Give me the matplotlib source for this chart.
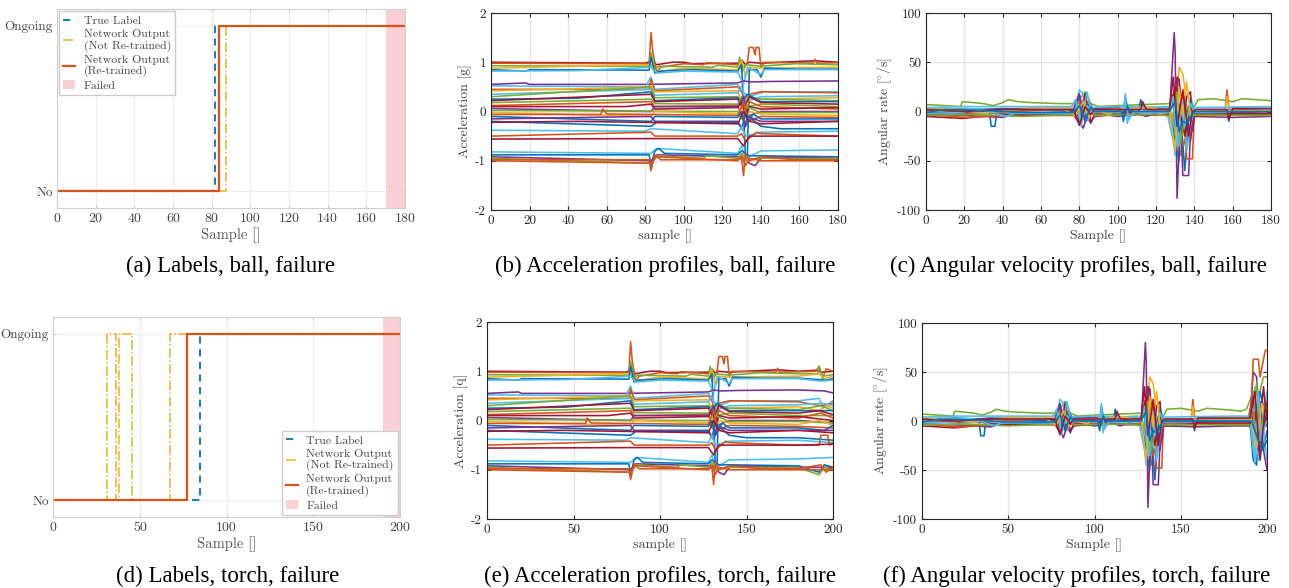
import matplotlib
matplotlib.use("Agg")
import matplotlib.pyplot as plt

plt.rcParams['font.family'] = 'cmr10'
plt.rcParams['mathtext.fontset'] = 'cm'
plt.rcParams['axes.unicode_minus'] = False
plt.rcParams['axes.formatter.use_mathtext'] = False

W, H = 1289, 588

# MATLAB default colour order
B, O, Y, P, G, L, R = '#0072BD', '#D95319', '#EDB120', '#7E2F8E', '#77AC30', '#4DBEEE', '#A2142F'

# ---- label plots (step points: sample where value changes, value) ----
ball_true_x, ball_true_y = [0, 81.5, 180], [0, 1, 1]
ball_not_x, ball_not_y = [0, 87.5, 180], [0, 1, 1]
ball_re_x, ball_re_y = [0, 84, 180], [0, 1, 1]
ball_failed = (170, 180)

torch_true_x, torch_true_y = [0, 85, 200], [0, 1, 1]
torch_not_x, torch_not_y = [0, 31, 36.5, 38, 45.5, 67.5, 200], [0, 1, 0, 1, 0, 1, 1]
torch_re_x, torch_re_y = [0, 77, 200], [0, 1, 1]
torch_failed = (190, 200)

legend_labels = ['True Label', 'Network Output\n(Not Re-trained)',
                 'Network Output\n(Re-trained)', 'Failed']

# ---- acceleration traces [g]: (sample, value) keypoints ----
acc_upper = [
    [(0, 1.0), (80, 0.98), (83, 1.02), (86, 0.95), (94, 1.0), (100, 1.0), (104, 0.97), (128, 0.98), (130, 1.05), (132, 0.95),
     (134, 1.0), (140, 0.98), (150, 1.0), (168, 1.03), (180, 1.0), (190, 1.02), (194, 0.98), (200, 1.0)],
    [(0, 0.98), (82, 0.97), (83, 1.6), (84, 1.2), (86, 0.8), (88, 0.9), (100, 0.97), (110, 0.95), (112, 0.99), (128, 0.95),
     (130, 1.0), (131, 0.85), (133, 1.0), (134, 1.3), (136, 1.3), (137, 1.15), (137.5, 1.3), (139, 1.3), (140, 0.9),
     (142, 1.0), (167, 0.98), (168, 1.06), (169, 0.98), (190, 1.0), (192, 1.1), (194, 0.85), (196, 1.05), (200, 1.0)],
    [(0, 0.93), (45, 0.92), (82, 0.92), (83, 1.2), (85, 0.85), (87, 0.92), (115, 0.9), (118, 0.94), (128, 0.9), (129, 1.1),
     (130, 0.8), (132, 0.95), (140, 0.92), (158, 0.97), (180, 0.95), (191, 0.95), (192, 1.1), (194, 0.9), (200, 0.93)],
    [(0, 0.88), (83, 0.95), (85, 0.8), (100, 0.88), (125, 0.85), (128, 0.85), (130, 1.05), (132, 0.7), (134, 0.9),
     (140, 0.88), (180, 0.9), (192, 0.95), (195, 0.85), (200, 0.9)],
    [(0, 0.85), (18, 0.82), (20, 0.85), (82, 0.84), (83, 1.1), (85, 0.78), (88, 0.82), (104, 0.85), (128, 0.82),
     (130, 0.95), (131, 0.1), (132, -0.95), (133, -0.9), (134, 0.85), (138, 0.85), (140, 0.7), (142, 0.88),
     (158, 0.86), (180, 0.86), (196, 0.82), (200, 0.85)],
    [(0, 0.82), (45, 0.83), (83, 0.9), (86, 0.78), (100, 0.82), (128, 0.8), (131, 0.55), (133, 0.9), (140, 0.75),
     (142, 0.85), (180, 0.85), (193, 0.8), (200, 0.82)],
]
acc_upper_colors = [R, O, G, Y, B, L]

acc_middle = [
    [(0, 0.55), (18, 0.58), (20, 0.55), (80, 0.55), (128, 0.58), (131, 0.62), (135, 0.6), (145, 0.61), (180, 0.62),
     (195, 0.6), (200, 0.56)],
    [(0, 0.52), (80, 0.5), (83, 0.7), (85, 0.45), (128, 0.55), (130, 0.45), (132, 0.35), (134, 0.3), (140, 0.38),
     (142, 0.4), (180, 0.4), (192, 0.45), (194, 0.25), (200, 0.4)],
    [(0, 0.45), (82, 0.45), (83, 0.65), (85, 0.42), (128, 0.5), (130, 0.4), (132, 0.2), (134, 0.35), (140, 0.4),
     (180, 0.38), (193, 0.3), (200, 0.35)],
    [(0, 0.42), (83, 0.5), (85, 0.4), (128, 0.42), (131, 0.0), (133, 0.3), (140, 0.25), (180, 0.28), (192, 0.2),
     (196, 0.3), (200, 0.25)],
    [(0, 0.35), (83, 0.45), (85, 0.33), (128, 0.38), (130, 0.5), (132, 0.2), (140, 0.3), (180, 0.32), (194, 0.35),
     (200, 0.3)],
    [(0, 0.3), (83, 0.5), (85, 0.28), (128, 0.3), (130, 0.1), (132, 0.3), (140, 0.25), (180, 0.22), (193, 0.3),
     (200, 0.2)],
    [(0, 0.25), (45, 0.27), (83, 0.4), (85, 0.22), (128, 0.28), (130, 0.2), (133, 0.35), (140, 0.2), (180, 0.2),
     (200, 0.2)],
    [(0, 0.22), (83, 0.35), (85, 0.2), (128, 0.25), (131, 0.05), (134, 0.3), (140, 0.18), (180, 0.15), (192, 0.2),
     (200, 0.12)],
    [(0, 0.18), (83, 0.25), (85, 0.16), (128, 0.15), (130, 0.3), (133, 0.1), (140, 0.15), (180, 0.1), (200, 0.1)],
    [(0, 0.12), (83, 0.2), (85, 0.1), (128, 0.12), (131, -0.2), (134, 0.2), (140, 0.1), (180, 0.05), (193, 0.15),
     (200, 0.05)],
    [(0, 0.1), (70, 0.1), (83, 0.15), (85, 0.05), (128, 0.08), (130, 0.2), (132, -0.1), (134, 0.1), (140, 0.05),
     (180, 0.08), (200, 0.0)],
    [(0, 0.06), (83, 0.0), (85, 0.1), (128, 0.1), (131, 0.3), (133, -0.1), (140, 0.0), (180, 0.0), (200, -0.05)],
    [(0, 0.02), (128, 0.0), (130, -0.15), (132, 0.1), (140, -0.02), (180, -0.02), (200, -0.05)],
    [(0, -0.02), (83, -0.1), (85, 0.0), (128, -0.05), (130, 0.1), (132, -0.3), (134, 0.0), (140, -0.05),
     (180, -0.08), (192, 0.0), (200, -0.1)],
    [(0, -0.06), (57, -0.06), (58, 0.05), (60, -0.05), (128, -0.08), (131, 0.2), (133, -0.2), (140, -0.1),
     (180, -0.12), (200, -0.15)],
    [(0, -0.1), (83, -0.2), (85, -0.1), (128, -0.12), (130, 0.0), (132, -0.3), (136, -0.05), (140, -0.15),
     (180, -0.15), (195, -0.2), (200, -0.1)],
    [(0, -0.15), (83, -0.1), (85, -0.2), (128, -0.2), (131, -0.4), (133, -0.1), (140, -0.2), (180, -0.2),
     (200, -0.2)],
    [(0, -0.2), (83, -0.3), (86, -0.22), (128, -0.22), (130, -0.35), (132, -0.05), (140, -0.3), (150, -0.35),
     (180, -0.35), (200, -0.4)],
    [(0, -0.22), (45, -0.2), (128, -0.25), (131, 0.0), (134, -0.2), (140, -0.25), (180, -0.2), (200, -0.25)],
]
acc_middle_colors = [P, L, O, Y, L, G, B, R, G, O, R, P, G, Y, O, B, P, B, R]

acc_lower = [
    [(0, -0.38), (80, -0.4), (83, -0.35), (128, -0.45), (130, -0.3), (132, -0.5), (140, -0.42), (180, -0.4),
     (200, -0.45)],
    [(0, -0.5), (83, -0.42), (85, -0.5), (128, -0.5), (130, -0.45), (132, -0.6), (138, -0.42), (140, -0.45),
     (180, -0.5), (192, -0.5), (193, -0.3), (197, -0.3), (198, -0.5), (200, -0.45)],
    [(0, -0.56), (83, -0.55), (128, -0.55), (131, -0.7), (134, -0.5), (140, -0.5), (180, -0.5), (200, -0.48)],
    [(0, -0.82), (83, -0.85), (86, -0.75), (128, -0.85), (130, -0.7), (132, -0.95), (140, -0.8), (180, -0.78),
     (200, -0.75)],
    [(0, -0.88), (82, -0.88), (83, -1.1), (85, -0.8), (87, -0.75), (90, -0.85), (128, -0.88), (130, -0.8),
     (134, -0.9), (140, -0.9), (180, -0.92), (192, -1.05), (195, -0.9), (200, -0.95)],
    [(0, -0.92), (83, -1.0), (86, -0.88), (128, -0.92), (132, -0.95), (134, -1.05), (137, -1.1), (139, -1.0),
     (141, -0.92), (180, -0.95), (200, -0.95)],
    [(0, -0.95), (83, -1.05), (86, -0.9), (110, -0.95), (112, -0.9), (128, -0.95), (130, -0.85), (133, -1.0),
     (140, -0.95), (180, -0.96), (192, -1.1), (195, -0.95), (200, -1.0)],
    [(0, -0.98), (82, -0.98), (83, -1.2), (85, -0.88), (88, -0.98), (128, -0.98), (130, -0.95), (131, -1.3),
     (132, -0.85), (134, -1.0), (140, -0.92), (158, -0.98), (180, -0.98), (193, -0.9), (196, -1.05), (200, -0.95)],
    [(0, -1.0), (83, -1.05), (86, -0.92), (128, -1.0), (130, -0.9), (132, -1.1), (134, -0.95), (140, -1.0),
     (180, -1.0), (200, -1.0)],
]
acc_lower_colors = [L, O, R, L, B, P, G, O, O]

# ---- angular rate traces [deg/s]: (sample, value) keypoints ----
gyro_traces = [
    [(0, 7), (10, 6), (18, 5), (19, 10), (25, 9), (30, 8), (35, 6), (40, 9), (43, 12), (48, 10), (55, 9), (70, 8),
     (77, 8), (80, 12), (83, 20), (86, 8), (90, 5), (100, 6), (127, 8), (130, 15), (131, -20), (133, -45),
     (135, -30), (137, -10), (140, 5), (142, 12), (150, 13), (160, 10), (165, 13), (180, 11), (185, 10), (188, 12),
     (190, 20), (192, 30), (195, 25), (198, 45), (200, 45)],
    [(0, 2), (20, 3), (33, 2), (34, -15), (36, -15), (37, 2), (45, 1), (77, 2), (78, 5), (80, 15), (82, -5),
     (85, 10), (88, 0), (102, 2), (103, -10), (104, 15), (106, -5), (108, 2), (127, 3), (129, 10), (130, -20),
     (131, -40), (132, -50), (133, -5), (135, -60), (137, -10), (140, 0), (157, 0), (158, -10), (159, 2), (180, 2),
     (190, 2), (192, -40), (194, -45), (196, 20), (198, -30), (200, -10)],
    [(0, -3), (20, -4), (40, -6), (45, -3), (77, -3), (80, -10), (82, -17), (84, -5), (86, -12), (88, -2),
     (100, -5), (110, -3), (127, -4), (129.5, 80), (130, 60), (131, -88), (132, -40), (133, -10), (134, -65),
     (137, -65), (138, -20), (140, -5), (160, -6), (180, -5), (190, -5), (192, 50), (194, 45), (196, -20),
     (198, -30), (200, -50)],
    [(0, 0), (20, -2), (60, 1), (77, 1), (80, 10), (82, -8), (85, 5), (88, 0), (105, 3), (127, 2), (129, -10),
     (130, 20), (131, 30), (132, 33), (133, 10), (134, 20), (136, -48), (139, -48), (140, 0), (156, 0), (157, 22),
     (158, 5), (160, 0), (180, 1), (189, 1), (191, 20), (192, 63), (195, 63), (196, 45), (199, 72), (200, 72)],
    [(0, 3), (30, 2), (60, 4), (76, 4), (78, 8), (80, -5), (83, 15), (86, 2), (100, 3), (127, 5), (130, -10),
     (132, 45), (134, 38), (135, 25), (137, -30), (138, -10), (140, 2), (156, 2), (157, 15), (158, 3), (180, 3),
     (190, 3), (192, 20), (195, -10), (198, 10), (200, 25)],
    [(0, 1), (40, -2), (76, -1), (78, 5), (80, 22), (82, 18), (84, -10), (87, 0), (103, 2), (104, 18), (105, -12),
     (107, 3), (125, 5), (129, -30), (130, -45), (131, 10), (133, -15), (136, -10), (138, 15), (140, 2), (180, 2),
     (191, 2), (193, 35), (195, -40), (197, 10), (199, -25), (200, -40)],
    [(0, -5), (19, -7), (30, -5), (45, -3), (77, -3), (80, -12), (83, 18), (86, -10), (88, -5), (100, -3),
     (127, -3), (129, -20), (130, -10), (131, 35), (132, 32), (134, -10), (136, 15), (138, 20), (139, -20),
     (140, -5), (160, -3), (180, -4), (190, -4), (192, -15), (195, 25), (198, -10), (200, 20)],
    [(0, -1), (40, 3), (78, 0), (80, -8), (84, 8), (88, 0), (111, 0), (112, 12), (114, 0), (127, 1), (130, -30),
     (132, 5), (134, -10), (136, -20), (138, 10), (140, -2), (180, 0), (191, 0), (193, -20), (196, 30), (200, 0)],
    [(0, -3), (20, -6), (40, -4), (77, -4), (80, -6), (82, 12), (85, -3), (100, -2), (120, -4), (127, -2),
     (130, 25), (132, -20), (134, -35), (137, -20), (140, -3), (180, -3), (190, -3), (192, 10), (194, -25),
     (197, 20), (200, -5)],
    [(0, 1), (42, 2), (77, 2), (80, 18), (83, -10), (86, 3), (100, 4), (115, -5), (127, 3), (131, 30), (133, -25),
     (135, 15), (138, -30), (140, 1), (180, 2), (190, 2), (192, 25), (195, -30), (200, 10)],
    [(0, 4), (20, 5), (44, 5), (76, 5), (78, 12), (81, -14), (84, 20), (86, 4), (100, 5), (127, 4), (130, -20),
     (132, -35), (134, 10), (136, -40), (138, -15), (140, 4), (180, 5), (190, 5), (192, -30), (194, 15),
     (196, -20), (200, 30)],
    [(0, -2), (30, 0), (45, -4), (77, -3), (80, 5), (84, -6), (87, -2), (100, -1), (127, 0), (130, 25), (133, -5),
     (135, -25), (137, 5), (140, -1), (160, -2), (180, -2), (191, -2), (193, 10), (195, -15), (198, 35), (200, -5)],
    [(0, -4), (25, -3), (50, -5), (78, -3), (84, 6), (88, -4), (120, -3), (129, -5), (131, 20), (133, -30),
     (136, 5), (140, -4), (180, -4), (192, -4), (194, 40), (196, -10), (200, 15)],
    [(0, -2), (20, -1), (21, 3), (30, 2), (42, -5), (46, -2), (77, -2), (79, 8), (81, -12), (84, 5), (88, -1),
     (102, -1), (104, 10), (106, -8), (108, -1), (127, -1), (129, 15), (131, -35), (133, 5), (135, -15), (138, 8),
     (140, -1), (158, -1), (160, 4), (180, 2), (191, 2), (193, -42), (195, 30), (197, -15), (200, 0)],
    [(0, 0), (15, 1), (30, -1), (50, 2), (72, 2), (78, -4), (82, 10), (85, -6), (88, 1), (96, -3), (98, 2),
     (118, 4), (122, 1), (127, 2), (130, -40), (132, 25), (134, -5), (136, 30), (138, -5), (140, 1), (175, 1),
     (191, 1), (194, -28), (197, 18), (200, 5)],
    [(0, 2), (20, 0), (40, 2), (77, 2), (80, -14), (83, 5), (86, -3), (88, 2), (112, 2), (113, 10), (115, 2),
     (127, 2), (129, 35), (131, -15), (134, 22), (137, -25), (139, 0), (141, 2), (157, 2), (158, -8), (160, 3),
     (180, 3), (190, 3), (193, 30), (196, -40), (199, 15), (200, 5)],
    [(0, -1), (10, 2), (30, 1), (50, -1), (77, -1), (80, 6), (83, -8), (86, 4), (88, 0), (102, 0), (103, -8),
     (105, 5), (107, 0), (127, 0), (130, 10), (132, -20), (134, -10), (136, -12), (138, -5), (140, 0), (180, 0),
     (191, 0), (194, -15), (197, -30), (200, -20)],
]
gyro_colors = [G, B, P, O, Y, L, R, B, O, P, L, R, G, L, Y, R, B]

acc_ylim, acc_yticks = (-2, 2), [-2, -1, 0, 1, 2]
gyro_ylim, gyro_yticks = (-100, 100), [-100, -50, 0, 50, 100]

captions = ['(a) Labels, ball, failure', '(b) Acceleration profiles, ball, failure',
            '(c) Angular velocity profiles, ball, failure', '(d) Labels, torch, failure',
            '(e) Acceleration profiles, torch, failure', '(f) Angular velocity profiles, torch, failure']


def ax_px(fig, l, t, r, b):
    return fig.add_axes([l / W, 1 - b / H, (r - l) / W, (b - t) / H])


def label_plot(ax, tx, ty, nx, ny, rx, ry, failed, xmax, xticks, loc):
    ax.axvspan(failed[0], failed[1], color='#f9c4cb', alpha=0.8, lw=0, label=legend_labels[3])
    ax.plot(tx, ty, drawstyle='steps-post', color=B, ls=(0, (4, 3)), lw=1.3, label=legend_labels[0])
    ax.plot(nx, ny, drawstyle='steps-post', color=Y, ls='-.', lw=1.1, label=legend_labels[1])
    ax.plot(rx, ry, drawstyle='steps-post', color=O, lw=1.6, label=legend_labels[2])
    ax.set_xlim(0, xmax)
    ax.set_ylim(-0.1, 1.1)
    ax.set_xticks(xticks)
    ax.set_yticks([0, 1])
    ax.set_yticklabels(['No', 'Ongoing'])
    ax.grid(True, color='#ececec', lw=0.8)
    ax.set_axisbelow(True)
    for s in ax.spines.values():
        s.set_color('#cfcfcf')
    ax.tick_params(direction='in', length=2, color='#cfcfcf', labelsize=10, labelcolor='#444444',
                   top=True, right=True)
    ax.tick_params(axis='y', labelsize=9.5, pad=3)
    ax.set_xlabel('Sample []', fontsize=10.5, color='#555555', labelpad=2)
    h, lab = ax.get_legend_handles_labels()
    order = [1, 2, 3, 0]
    leg = ax.legend([h[i] for i in order], [lab[i] for i in order], loc=loc,
                    fontsize=8.5, frameon=True, fancybox=False, edgecolor='#cccccc', framealpha=1,
                    handlelength=1.0, handletextpad=0.7, borderpad=0.35, labelspacing=0.25,
                    borderaxespad=0.2)
    for t in leg.get_texts():
        t.set_color('#444444')


def profile_plot(ax, groups, xmax, xticks, ylim, yticks, xlabel, ylabel):
    for traces, colors in groups:
        for pts, c in zip(traces, colors):
            xs = [p[0] for p in pts]
            ys = [p[1] for p in pts]
            ax.plot(xs, ys, color=c, lw=1.15)
    ax.set_xlim(0, xmax)
    ax.set_ylim(*ylim)
    ax.set_xticks(xticks)
    ax.set_yticks(yticks)
    ax.grid(True, color='#e3e3e3', lw=0.9)
    ax.set_axisbelow(True)
    for s in ax.spines.values():
        s.set_color('#262626')
        s.set_linewidth(0.8)
    ax.tick_params(direction='in', length=3, color='#262626', labelsize=9.5, labelcolor='#262626',
                   top=True, right=True)
    ax.set_xlabel(xlabel, fontsize=10, color='#444444', labelpad=2)
    ax.set_ylabel(ylabel, fontsize=10, color='#444444', labelpad=2)


fig = plt.figure(figsize=(W / 100, H / 100), dpi=100)

acc_groups = [(acc_upper, acc_upper_colors), (acc_middle, acc_middle_colors), (acc_lower, acc_lower_colors)]
gyro_groups = [(gyro_traces, gyro_colors)]

ax_a = ax_px(fig, 57, 9, 405, 208)
label_plot(ax_a, ball_true_x, ball_true_y, ball_not_x, ball_not_y, ball_re_x, ball_re_y, ball_failed,
           180, list(range(0, 181, 20)), 'upper left')

ax_b = ax_px(fig, 491, 13, 838, 210)
profile_plot(ax_b, acc_groups, 180, list(range(0, 181, 20)), acc_ylim, acc_yticks, 'sample []',
             'Acceleration [g]')

ax_c = ax_px(fig, 926, 13, 1271, 210)
profile_plot(ax_c, gyro_groups, 180, list(range(0, 181, 20)), gyro_ylim, gyro_yticks, 'Sample []',
             r'Angular rate [$^{\circ}$/s]')

ax_d = ax_px(fig, 53, 317, 400, 517)
label_plot(ax_d, torch_true_x, torch_true_y, torch_not_x, torch_not_y, torch_re_x, torch_re_y, torch_failed,
           200, [0, 50, 100, 150, 200], 'lower right')

ax_e = ax_px(fig, 487, 322, 833, 519)
profile_plot(ax_e, acc_groups, 200, [0, 50, 100, 150, 200], acc_ylim, acc_yticks, 'sample []',
             'Acceleration [q]')

ax_f = ax_px(fig, 922, 323, 1267, 519)
profile_plot(ax_f, gyro_groups, 200, [0, 50, 100, 150, 200], gyro_ylim, gyro_yticks, 'Sample []',
             r'Angular rate [$^{\circ}$/s]')

cap_pos = [(230, 266), (665, 266), (1078, 266), (228, 576), (660, 576), (1077, 576)]
for (cx, cy), txt in zip(cap_pos, captions):
    fig.text(cx / W, 1 - cy / H, txt, ha='center', va='center', fontsize=16.5,
             family='Liberation Serif', color='black')

fig.savefig('out.png', dpi=100)
